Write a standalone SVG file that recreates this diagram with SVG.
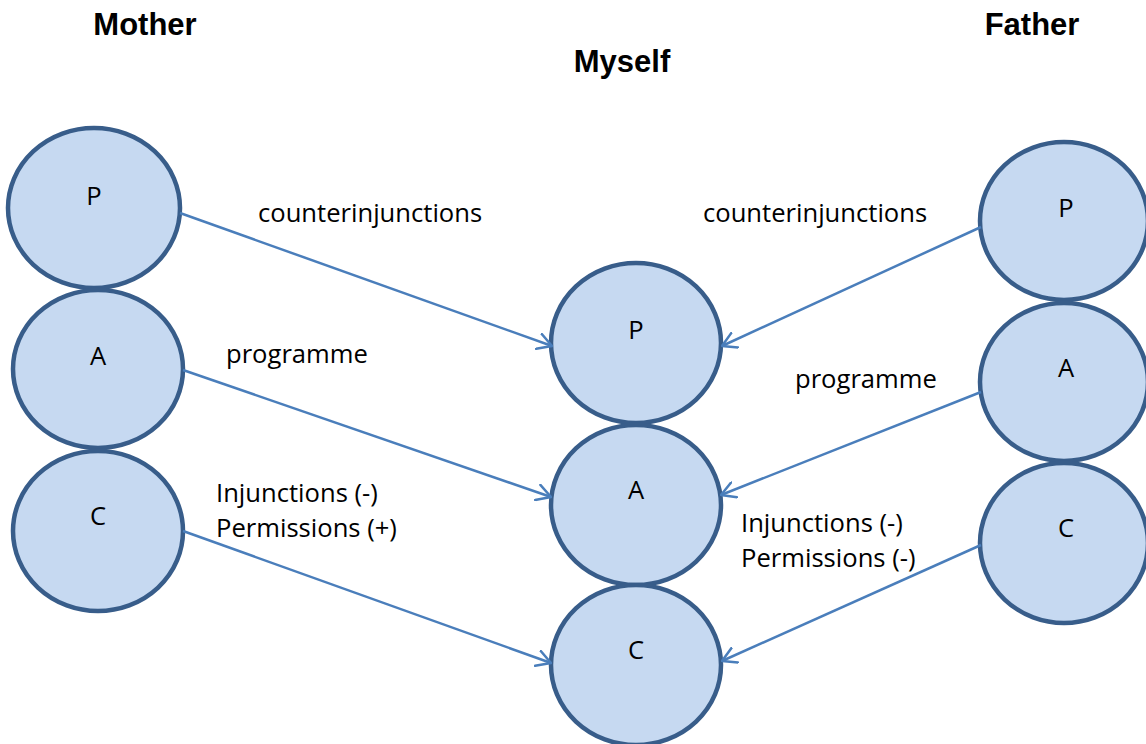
<svg xmlns="http://www.w3.org/2000/svg" width="1146" height="744" viewBox="0 0 1146 744">
<style>
.node{fill:#c6d9f1;stroke:#385d8a;stroke-width:4.5}
.lbl{font-family:"Open Sans","Liberation Sans",sans-serif;font-size:25.6px;fill:#000}
.ttl{font-family:"Liberation Sans",Arial,sans-serif;font-size:31px;font-weight:bold;fill:#000}
.conn{stroke:#4a7ebb;stroke-width:2.5;fill:none;marker-end:url(#arr)}
</style>
<defs>
<marker id="arr" markerUnits="userSpaceOnUse" viewBox="0 0 16 18" refX="15" refY="9" markerWidth="16" markerHeight="18" orient="auto">
<path d="M1,1 L15,9 L1,17" fill="none" stroke="#4a7ebb" stroke-width="2.5" stroke-linecap="round" stroke-linejoin="round"/>
</marker>
</defs>
<rect width="1146" height="744" fill="#fff"/>
<text class="ttl" x="145" y="35" text-anchor="middle">Mother</text>
<text class="ttl" x="622" y="72" text-anchor="middle">Myself</text>
<text class="ttl" x="1032" y="35" text-anchor="middle">Father</text>
<g id="mother-p"><ellipse class="node" cx="94" cy="208" rx="86" ry="80"/><text class="lbl" x="94" y="205" text-anchor="middle">P</text></g>
<g id="mother-a"><ellipse class="node" cx="98" cy="369" rx="85" ry="79"/><text class="lbl" x="98" y="365" text-anchor="middle">A</text></g>
<g id="mother-c"><ellipse class="node" cx="98" cy="531" rx="85" ry="80"/><text class="lbl" x="98" y="525" text-anchor="middle">C</text></g>
<g id="myself-p"><ellipse class="node" cx="636" cy="343" rx="85" ry="80"/><text class="lbl" x="636" y="339" text-anchor="middle">P</text></g>
<g id="myself-a"><ellipse class="node" cx="636" cy="505" rx="85" ry="80"/><text class="lbl" x="636" y="499" text-anchor="middle">A</text></g>
<g id="myself-c"><ellipse class="node" cx="636" cy="665" rx="85" ry="80"/><text class="lbl" x="636" y="659" text-anchor="middle">C</text></g>
<g id="father-p"><ellipse class="node" cx="1064" cy="221" rx="84" ry="79"/><text class="lbl" x="1066" y="217" text-anchor="middle">P</text></g>
<g id="father-a"><ellipse class="node" cx="1064" cy="382" rx="84" ry="79"/><text class="lbl" x="1066" y="377" text-anchor="middle">A</text></g>
<g id="father-c"><ellipse class="node" cx="1064" cy="543" rx="84" ry="80"/><text class="lbl" x="1066" y="537" text-anchor="middle">C</text></g>
<g id="connectors">
<line class="conn" x1="180" y1="213" x2="552" y2="346"/>
<line class="conn" x1="183" y1="370" x2="551" y2="497"/>
<line class="conn" x1="183" y1="531" x2="551" y2="663"/>
<line class="conn" x1="981" y1="227" x2="722" y2="346"/>
<line class="conn" x1="981" y1="392" x2="721" y2="495"/>
<line class="conn" x1="981" y1="545" x2="722" y2="661"/>
</g>
<g id="labels">
<text class="lbl" x="258" y="222">counterinjunctions</text>
<text class="lbl" x="703" y="222">counterinjunctions</text>
<text class="lbl" x="226" y="363">programme</text>
<text class="lbl" x="795" y="388">programme</text>
<text class="lbl" x="216" y="502">Injunctions (-)</text>
<text class="lbl" x="216" y="537">Permissions (+)</text>
<text class="lbl" x="741" y="532">Injunctions (-)</text>
<text class="lbl" x="741" y="567">Permissions (-)</text>
</g>
</svg>
